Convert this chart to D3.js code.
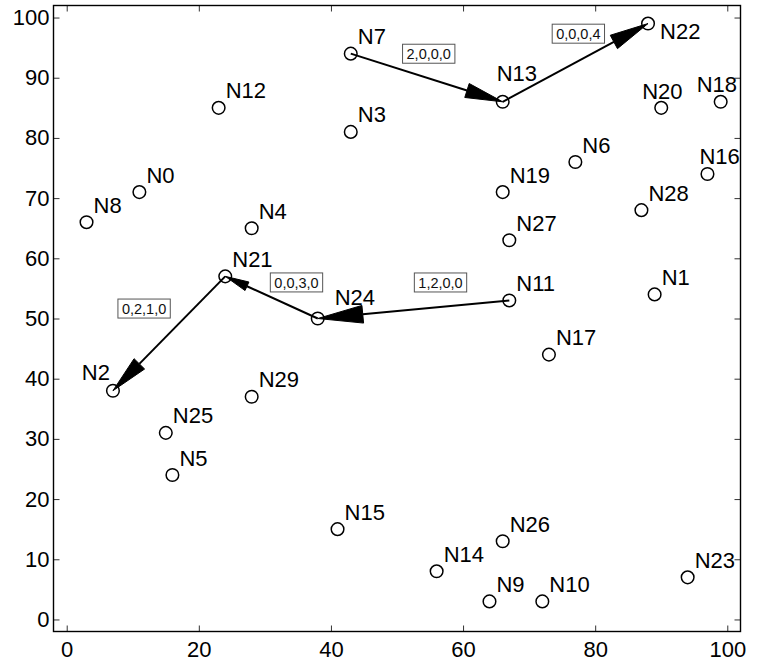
<!DOCTYPE html>
<html>
<head>
<meta charset="utf-8">
<script src="https://cdn.jsdelivr.net/npm/d3@7"></script>
<style>
  html, body { margin: 0; padding: 0; background: #fff; }
  svg { display: block; font-family: "Liberation Sans", Arial, Helvetica, sans-serif; }
</style>
</head>
<body>
<svg id="chart" width="761" height="664"></svg>
<script>
// Node names and coordinates
const nodeNames = ["N0","N1","N2","N3","N4","N5","N6","N7","N8","N9",
                   "N10","N11","N12","N13","N14","N15","N16","N17","N18","N19",
                   "N20","N21","N22","N23","N24","N25","N26","N27","N28","N29"];
const nodeX = [11, 89, 7, 43, 28, 16, 77, 43, 3, 64,
               72, 67, 23, 66, 56, 41, 97, 73, 99, 66,
               90, 24, 88, 94, 38, 15, 66, 67, 87, 28];
const nodeY = [71, 54, 38, 81, 65, 24, 76, 94, 66, 3,
               3, 53, 85, 86, 8, 15, 74, 44, 86, 71,
               85, 57, 99, 7, 50, 31, 13, 63, 68, 37];

// Directed links and their weight labels
const linkSource = ["N7", "N13", "N11", "N24", "N21"];
const linkTarget = ["N13", "N22", "N24", "N21", "N2"];
const linkLabel  = ["2,0,0,0", "0,0,0,4", "1,2,0,0", "0,0,3,0", "0,2,1,0"];

// Axis ticks
const xTicks = [0, 20, 40, 60, 80, 100];
const yTicks = [0, 10, 20, 30, 40, 50, 60, 70, 80, 90, 100];

// Label placement: default is up-right of the marker; a few are moved to stay clear
const labelShift = {
  N13: { dx: -6, dy: -21, anchor: "start" },
  N22: { dx: 12, dy: 15, anchor: "start" },
  N20: { dx: -19, dy: -9, anchor: "start" },
  N18: { dx: -24, dy: -10, anchor: "start" },
  N16: { dx: -8, dy: -10, anchor: "start" },
  N2:  { dx: -3, dy: -11, anchor: "end" },
  N24: { dx: 17, dy: -14, anchor: "start" }
};
const defaultShift = { dx: 7, dy: -9.5, anchor: "start" };
// Link-label box centre relative to the link midpoint
const linkLabelShift = {
  "2,0,0,0": [2, -24],
  "0,0,0,4": [3, -29],
  "1,2,0,0": [27, -27],
  "0,0,3,0": [25, -15],
  "0,2,1,0": [-25, -25]
};

const svg = d3.select("#chart");
const box = { left: 53.5, right: 740.5, top: 5.5, bottom: 631.5 };

const x = d3.scaleLinear().domain([-2, 102]).range([box.left, box.right]);
const y = d3.scaleLinear().domain([-2, 102]).range([box.bottom, box.top]);

const fontSize = 22;
const tickLen = 6;

// Axes: ticks point inward on all four sides
const axisG = svg.append("g");
const bottomAxis = d3.axisBottom(x).tickValues(xTicks).tickSizeInner(-tickLen).tickSizeOuter(0).tickPadding(10);
const topAxis = d3.axisTop(x).tickValues(xTicks).tickSizeInner(-tickLen).tickSizeOuter(0).tickFormat("");
const leftAxis = d3.axisLeft(y).tickValues(yTicks).tickSizeInner(-tickLen).tickSizeOuter(0).tickPadding(4);
const rightAxis = d3.axisRight(y).tickValues(yTicks).tickSizeInner(-tickLen).tickSizeOuter(0).tickFormat("");

function styleAxis(g) {
  g.select(".domain").remove();
  g.selectAll(".tick line").attr("stroke", "#333").attr("stroke-width", 1);
  g.selectAll(".tick text")
    .attr("fill", "#000")
    .style("font-family", "'Liberation Sans', Arial, sans-serif")
    .style("font-size", fontSize + "px");
}
axisG.append("g").attr("transform", `translate(0,${box.bottom})`).call(bottomAxis).call(styleAxis)
  .selectAll(".tick text").attr("dy", "0.71em");
axisG.append("g").attr("transform", `translate(0,${box.top})`).call(topAxis).call(styleAxis);
axisG.append("g").attr("transform", `translate(${box.left},0)`).call(leftAxis).call(styleAxis);
axisG.append("g").attr("transform", `translate(${box.right},0)`).call(rightAxis).call(styleAxis);

// Plot frame
svg.append("rect")
  .attr("x", box.left).attr("y", box.top)
  .attr("width", box.right - box.left).attr("height", box.bottom - box.top)
  .attr("fill", "none").attr("stroke", "#000").attr("stroke-width", 1.4);

const nodes = nodeNames.map((n, i) => ({ name: n, x: nodeX[i], y: nodeY[i] }));
const byName = new Map(nodes.map(d => [d.name, d]));

// Links with filled arrowheads ending at the target centre
const links = linkSource.map((s, i) => ({ s: byName.get(s), t: byName.get(linkTarget[i]), label: linkLabel[i] }));
const linkG = svg.append("g");
links.forEach(l => {
  const x1 = x(l.s.x), y1 = y(l.s.y), x2 = x(l.t.x), y2 = y(l.t.y);
  const len = Math.hypot(x2 - x1, y2 - y1);
  const ux = (x2 - x1) / len, uy = (y2 - y1) / len;
  const headLen = 0.235 * len, halfW = 0.046 * len;
  const bx = x2 - ux * headLen, by = y2 - uy * headLen;
  linkG.append("line")
    .attr("x1", x1).attr("y1", y1).attr("x2", bx).attr("y2", by)
    .attr("stroke", "#000").attr("stroke-width", 2);
  linkG.append("path")
    .attr("d", `M${x2},${y2}L${bx - uy * halfW},${by + ux * halfW}L${bx + uy * halfW},${by - ux * halfW}Z`)
    .attr("fill", "#000").attr("stroke", "#000").attr("stroke-width", 1);
});

// Node markers
svg.append("g").selectAll("circle").data(nodes).join("circle")
  .attr("cx", d => x(d.x)).attr("cy", d => y(d.y)).attr("r", 6.3)
  .attr("fill", "none").attr("stroke", "#000").attr("stroke-width", 1.5);

// Node labels
svg.append("g").selectAll("text").data(nodes).join("text")
  .each(function (d) {
    const s = labelShift[d.name] || defaultShift;
    d3.select(this)
      .attr("x", x(d.x) + s.dx).attr("y", y(d.y) + s.dy)
      .attr("text-anchor", s.anchor);
  })
  .attr("font-size", fontSize).attr("fill", "#000")
  .text(d => d.name);

// Link weight labels in boxes
const lblG = svg.append("g");
links.forEach(l => {
  const mx = (x(l.s.x) + x(l.t.x)) / 2, my = (y(l.s.y) + y(l.t.y)) / 2;
  const off = linkLabelShift[l.label] || [0, -20];
  const cx = mx + off[0], cy = my + off[1];
  const g = lblG.append("g");
  const rect = g.append("rect");
  const t = g.append("text")
    .attr("x", cx).attr("y", cy).attr("dy", "0.36em")
    .attr("text-anchor", "middle").attr("font-size", 14.5).attr("fill", "#111")
    .text(l.label);
  const bb = t.node().getBBox();
  rect.attr("x", bb.x - 4).attr("y", cy - 9.5)
    .attr("width", bb.width + 8).attr("height", 19)
    .attr("fill", "#fff").attr("stroke", "#555").attr("stroke-width", 1);
});
</script>
</body>
</html>
